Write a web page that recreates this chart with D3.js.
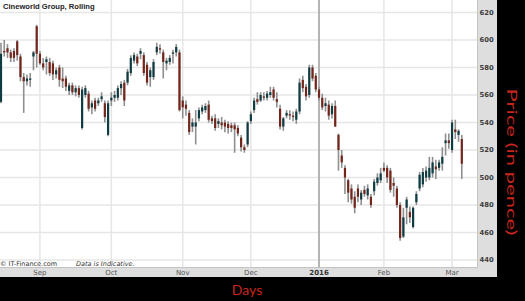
<!DOCTYPE html>
<html>
<head>
<style type="text/css">
    body { margin: 0; background: #000; }
    svg { display: block; }
    .grid line { stroke: #e6e6e6; stroke-width: 1.5px; }
    .ytick { font-family: "DejaVu Sans", sans-serif; font-size: 6.8px; font-weight: bold; fill: #3c3c3c; }
    .xtick { font-family: "DejaVu Sans", sans-serif; font-size: 7px; fill: #555; }
    .note { font-family: "DejaVu Sans", sans-serif; font-size: 6.5px; fill: #333; }
    .axisTitle { font-family: Lato, "Open Sans", sans-serif; fill: #c8261c; }
</style>
<script src="https://d3js.org/d3.v7.min.js"></script>
</head>
<body>
<svg id="chart" width="525" height="301"></svg>
<script type="text/javascript">
// daily candles, mid Aug 2015 to early Mar 2016 (pence)
const opens = [555,592,594,591,592,599,588,573,570,571,588,610,590,583,584,584,583,575,580,572,
    572,563,567,562,565,536,560,561,551,556,554,557,554,531,556,558,558,565,569,569,
    576,585,588,590,589,582,573,573,591,594,591,583,584,590,591,591,556,553,547,537,
    537,543,548,549,553,543,543,539,540,540,539,538,538,536,529,522,524,541,549,557,
    556,559,558,560,564,557,550,537,545,546,545,542,548,571,566,560,580,574,564,558,
    552,553,546,552,531,516,507,498,492,486,492,484,491,487,486,490,496,498,507,507,
    505,496,492,480,457,478,475,464,482,492,495,500,500,503,508,507,510,525,527,520,
    535,531,528];
const highs = [598,600,597,593,594,600,590,576,575,576,592,611,592,587,588,587,585,580,582,580,
    574,569,569,567,567,566,567,563,556,558,558,562,556,556,562,563,567,570,571,579,
    589,591,590,594,591,584,580,586,598,597,593,587,589,593,597,593,559,556,549,543,
    549,551,553,554,556,545,546,543,544,542,541,540,540,538,531,524,541,548,558,562,
    562,562,563,566,566,562,553,544,549,549,548,550,572,574,568,582,582,576,566,561,
    558,556,554,556,532,520,509,499,495,490,495,491,494,495,488,499,503,507,511,509,
    507,500,494,482,478,486,479,479,490,504,507,508,515,515,513,513,522,532,532,542,
    542,535,531];
const lows = [554,588,587,584,584,585,570,547,567,566,578,580,582,578,575,574,571,572,566,565,
    563,560,560,559,558,535,558,548,546,548,552,555,540,530,552,555,556,560,552,567,
    574,583,581,586,574,567,566,571,589,590,572,578,582,583,588,548,543,545,531,533,
    524,541,546,547,540,539,534,536,535,533,532,533,518,530,519,518,522,539,547,553,
    555,556,556,558,556,551,535,534,543,542,541,539,546,562,556,558,570,562,556,549,
    548,542,543,537,505,507,488,482,481,474,482,480,486,484,478,487,494,496,504,496,
    489,486,478,454,456,466,467,463,480,490,493,497,498,500,499,505,505,516,521,518,
    528,526,499];
const closes = [590,591,591,587,587,589,573,570,572,572,591,590,583,580,586,576,575,578,571,570,
    566,567,562,565,560,564,565,550,554,550,556,559,544,554,558,560,565,568,556,577,
    587,589,583,592,576,569,578,584,595,593,584,585,587,591,595,549,551,550,533,540,
    540,549,551,552,542,541,536,541,538,537,536,536,535,532,522,520,540,546,556,555,
    560,558,561,562,558,555,537,543,547,545,544,548,569,565,559,580,572,564,558,551,
    554,545,552,537,520,511,500,489,484,478,486,489,488,492,480,497,500,503,505,500,
    491,494,480,456,471,484,471,478,488,502,504,505,507,511,506,511,515,527,525,540,
    533,534,510];

const yTicks = [440, 460, 480, 500, 520, 540, 560, 580, 600, 620];
const monthLabels = ["Sep", "Oct", "Nov", "Dec", "2016", "Feb", "Mar"];
const holidays = ["2015-08-31", "2015-12-25", "2015-12-28", "2016-01-01"];

// trading days only (weekends and UK bank holidays skipped)
const fmt = d3.timeFormat("%Y-%m-%d");
const days = [];
for (let d = new Date(2015, 7, 13); days.length < opens.length; d = d3.timeDay.offset(d, 1)) {
    if (d.getDay() === 0 || d.getDay() === 6 || holidays.includes(fmt(d))) continue;
    days.push(new Date(d));
}
const candles = days.map((d, i) => ({
    date: d, key: fmt(d), o: opens[i], h: highs[i], l: lows[i], c: closes[i]
}));

const plotW = 477, plotH = 267;
const step = 3.245;
const x = d3.scaleBand()
    .domain(candles.map(d => d.key))
    .range([1 - step / 2, 1 - step / 2 + step * candles.length]);
const y = d3.scaleLinear().domain([440, 620]).range([260, 12.5]);
const cx = d => x(d.key) + x.bandwidth() / 2;

// first trading day of each month from September
const monthStarts = candles.filter((d, i) => i > 0 && d.date.getMonth() !== candles[i - 1].date.getMonth());

const svg = d3.select("#chart");

// axis bands
svg.append("rect").attr("x", 0).attr("y", 0).attr("width", 497).attr("height", 277).attr("fill", "#dedede");
svg.append("rect").attr("x", 0).attr("y", 0).attr("width", plotW).attr("height", plotH).attr("fill", "#fff");
svg.append("path")
    .attr("d", `M${plotW + 0.5},0V${plotH + 0.5}H0`)
    .attr("fill", "none").attr("stroke", "#c4c4c4");

const grid = svg.append("g").attr("class", "grid");
grid.selectAll("line.h")
    .data(yTicks)
    .enter()
    .append("line")
    .attr("x1", 0).attr("x2", plotW)
    .attr("y1", d => y(d)).attr("y2", d => y(d));
grid.selectAll("line.v")
    .data(monthStarts)
    .enter()
    .append("line")
    .attr("x1", cx).attr("x2", cx)
    .attr("y1", 0).attr("y2", plotH)
    .style("stroke", d => d.date.getMonth() === 0 ? "#b4b4b4" : null)
    .style("stroke-width", d => d.date.getMonth() === 0 ? "2px" : null);

svg.append("text")
    .attr("x", 3).attr("y", 8.5)
    .style("font-family", "'Liberation Sans', Arial, sans-serif")
    .style("font-size", "7.6px").style("font-weight", "bold").style("fill", "#222")
    .text("Cineworld Group, Rolling");

// candles
const g = svg.append("g").selectAll("g")
    .data(candles)
    .enter()
    .append("g");
g.append("line")
    .attr("x1", cx).attr("x2", cx)
    .attr("y1", d => y(d.h)).attr("y2", d => y(d.l))
    .attr("stroke", "#8f8f8f").attr("stroke-width", 1.6);
g.append("rect")
    .attr("x", d => cx(d) - 1.1)
    .attr("width", 2.2)
    .attr("y", d => y(Math.max(d.o, d.c)))
    .attr("height", d => Math.max(1, Math.abs(y(d.o) - y(d.c))))
    .attr("fill", d => d.c >= d.o ? "#0f3b42" : "#72251a");

// right axis labels
svg.selectAll("text.ytick")
    .data(yTicks)
    .enter()
    .append("text")
    .attr("class", "ytick")
    .attr("x", 479.5)
    .attr("y", d => y(d) + 2.4)
    .text(d => d);

// month labels
svg.selectAll("text.xtick")
    .data(monthStarts)
    .enter()
    .append("text")
    .attr("class", "xtick")
    .attr("x", cx)
    .attr("y", 275)
    .attr("text-anchor", "middle")
    .style("font-weight", (d, i) => monthLabels[i] === "2016" ? "bold" : null)
    .style("fill", (d, i) => monthLabels[i] === "2016" ? "#333" : null)
    .text((d, i) => monthLabels[i]);

svg.append("text").attr("class", "note").attr("x", 0).attr("y", 265.5).text("\u00a9 IT-Finance.com");
svg.append("text").attr("class", "note").attr("x", 76).attr("y", 265.5)
    .style("font-style", "italic").text("Data is Indicative.");

svg.append("text")
    .attr("class", "axisTitle")
    .attr("x", 247).attr("y", 295)
    .attr("text-anchor", "middle")
    .style("font-size", "14px")
    .text("Days");
svg.append("text")
    .attr("class", "axisTitle")
    .attr("transform", "translate(507,162) rotate(90)")
    .attr("text-anchor", "middle")
    .attr("textLength", 147)
    .attr("lengthAdjust", "spacingAndGlyphs")
    .style("font-size", "14px")
    .text("Price (in pence)");
</script>
</body>
</html>
